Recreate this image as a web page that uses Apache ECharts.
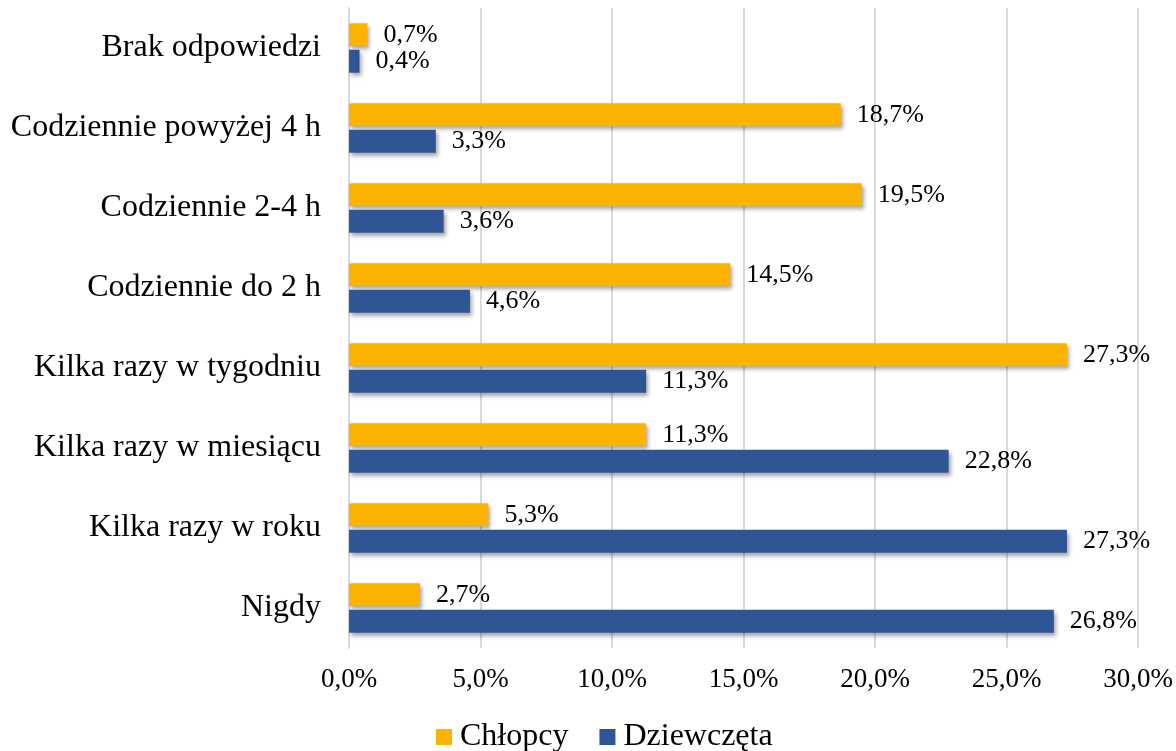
<!DOCTYPE html>
<html><head><meta charset="utf-8">
<script src="https://cdn.jsdelivr.net/npm/echarts@6/dist/echarts.min.js"></script>
<style>html,body{margin:0;padding:0;background:#fff}#c{width:1176px;height:751px}</style>
</head><body><div id="c"></div>
<script>
const categories = ['Nigdy','Kilka razy w roku','Kilka razy w miesiącu','Kilka razy w tygodniu','Codziennie do 2 h','Codziennie 2-4 h','Codziennie powyżej 4 h','Brak odpowiedzi'];
const chlopcy = [2.7, 5.3, 11.3, 27.3, 14.5, 19.5, 18.7, 0.7];
const dziewczeta = [26.8, 27.3, 22.8, 11.3, 4.6, 3.6, 3.3, 0.4];
const seriesNames = ['Chłopcy','Dziewczęta'];
const fmt = v => v.toFixed(1).replace('.', ',') + '%';
const font = '"Liberation Serif", "Times New Roman", serif';
const shadow = {shadowColor:'rgba(0,0,0,0.35)', shadowBlur:4, shadowOffsetX:2, shadowOffsetY:3};
const chart = echarts.init(document.getElementById('c'));
chart.setOption({
  animation:false,
  textStyle:{fontFamily:font},
  grid:{left:349, right:38, top:8, bottom:103},
  legend:{data:seriesNames, top:716, left:431, itemWidth:16, itemHeight:16, itemGap:31, icon:'rect',
    textStyle:{fontFamily:font, fontSize:32, color:'#000', padding:[0,0,0,3]}},
  xAxis:{type:'value', min:0, max:30, interval:5,
    axisLabel:{formatter:fmt, fontFamily:font, fontSize:27, color:'#000', margin:18},
    splitLine:{lineStyle:{color:'#d9d9d9', width:2}},
    axisLine:{show:false}, axisTick:{show:false}},
  yAxis:{type:'category', data:categories,
    axisLabel:{fontFamily:font, fontSize:32, color:'#000', margin:28},
    axisLine:{show:true, lineStyle:{color:'#d9d9d9', width:2}}, axisTick:{show:false}},
  series:[
    {name:seriesNames[0], type:'bar', data:chlopcy, barWidth:23, barGap:'15%',
     itemStyle:Object.assign({color:'#FBB300'}, shadow),
     label:{show:true, position:'right', distance:16, formatter:p=>fmt(p.value), fontFamily:font, fontSize:26, color:'#000'}},
    {name:seriesNames[1], type:'bar', data:dziewczeta, barWidth:23,
     itemStyle:Object.assign({color:'#2F5597'}, shadow),
     label:{show:true, position:'right', distance:16, formatter:p=>fmt(p.value), fontFamily:font, fontSize:26, color:'#000'}}
  ]
});
</script></body></html>
